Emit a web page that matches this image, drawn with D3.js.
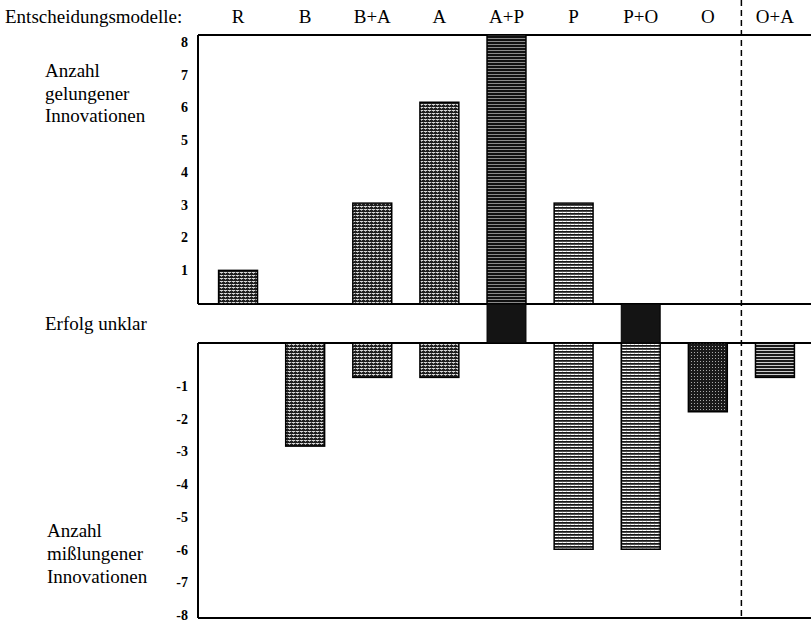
<!DOCTYPE html>
<html>
<head>
<meta charset="utf-8">
<script src="https://cdn.jsdelivr.net/npm/d3@7"></script>
<style>
  html, body { margin: 0; padding: 0; background: #fff; }
  svg { display: block; }
  text { font-family: "Liberation Serif", "Times New Roman", serif; fill: #000; }
</style>
</head>
<body>
<svg id="chart" width="811" height="624"></svg>
<script>
// ---- data ----
const categories = ["R", "B", "B+A", "A", "A+P", "P", "P+O", "O", "O+A"];
const successful = [1, 0, 3, 6, 8, 3, 0, 0, 0];     // Anzahl gelungener Innovationen
const failed     = [0, 3, 1, 1, 0, 6, 6, 2, 1];     // Anzahl mißlungener Innovationen
const unclear    = [0, 0, 0, 0, 1, 0, 1, 0, 0];     // Erfolg unklar
const topTickValues    = [1, 2, 3, 4, 5, 6, 7, 8];
const bottomTickValues = [-1, -2, -3, -4, -5, -6, -7, -8];

// ---- styles (per category pattern) ----
const patternOf = {
  "R": "pDot", "B": "pDot", "B+A": "pDot", "A": "pDot",
  "A+P": "pDense", "P": "pLine", "P+O": "pLine", "O": "pDark", "O+A": "pLine2"
};

const svg = d3.select("#chart");
const W = 811;
const frameLeft = 198;

// scales
const x = d3.scaleBand().domain(categories).range([204.5, 808.5])
  .paddingInner(0.42).paddingOuter(0.21);
const yTop = d3.scaleLinear().domain([0, 8]).range([304, 35]);
const yBot = d3.scaleLinear().domain([0, -8]).range([343, 618]);
const yTopLabel = d3.scaleLinear().domain([1, 8]).range([270, 42]);
const yBotLabel = d3.scaleLinear().domain([-1, -8]).range([386, 615]);

// patterns
const defs = svg.append("defs");
function pat(id, w, h, bg, rects) {
  const p = defs.append("pattern").attr("id", id).attr("patternUnits", "userSpaceOnUse")
    .attr("width", w).attr("height", h);
  p.append("rect").attr("width", w).attr("height", h).attr("fill", bg);
  rects.forEach(r => p.append("rect").attr("x", r[0]).attr("y", r[1])
    .attr("width", r[2]).attr("height", r[3]).attr("fill", r[4]));
}
pat("pDot", 4, 3, "#d8d8d8", [[0, 0, 4, 2, "#1e1e1e"], [1, 0, 1, 1, "#999"], [3, 2, 1, 1, "#555"]]);
pat("pDense", 4, 3, "#8a8a8a", [[0, 0, 4, 2, "#111"]]);
pat("pLine", 4, 3, "#fff", [[0, 0, 4, 1.8, "#1a1a1a"], [2, 1.8, 1, 0.6, "#777"]]);
pat("pLine2", 4, 3, "#ccc", [[0, 0, 4, 2, "#1a1a1a"]]);
pat("pDark", 3, 3, "#1a1a1a", [[1, 1, 1, 1, "#aaa"]]);

const data = categories.map((c, i) => ({ c, s: successful[i], f: failed[i], u: unclear[i] }));

// frame lines
const frame = svg.append("g").attr("stroke", "#000").attr("stroke-width", 2).attr("fill", "none");
frame.append("line").attr("x1", frameLeft).attr("x2", W).attr("y1", yTop(8)).attr("y2", yTop(8));
frame.append("line").attr("x1", frameLeft).attr("x2", frameLeft).attr("y1", yTop(8)).attr("y2", yTop(0));
frame.append("line").attr("x1", frameLeft).attr("x2", W).attr("y1", yTop(0)).attr("y2", yTop(0));
frame.append("line").attr("x1", frameLeft).attr("x2", W).attr("y1", yBot(0)).attr("y2", yBot(0));
frame.append("line").attr("x1", frameLeft).attr("x2", frameLeft).attr("y1", yBot(0)).attr("y2", yBot(-8));
frame.append("line").attr("x1", frameLeft).attr("x2", W).attr("y1", yBot(-8)).attr("y2", yBot(-8));

// successful bars
svg.append("g").selectAll("rect").data(data.filter(d => d.s > 0)).join("rect")
  .attr("x", d => x(d.c)).attr("width", x.bandwidth())
  .attr("y", d => yTop(d.s)).attr("height", d => yTop(0) - yTop(d.s))
  .attr("fill", d => `url(#${patternOf[d.c]})`)
  .attr("stroke", "#000").attr("stroke-width", 1.5);

// failed bars
svg.append("g").selectAll("rect").data(data.filter(d => d.f > 0)).join("rect")
  .attr("x", d => x(d.c)).attr("width", x.bandwidth())
  .attr("y", yBot(0)).attr("height", d => yBot(-d.f) - yBot(0))
  .attr("fill", d => `url(#${patternOf[d.c]})`)
  .attr("stroke", "#000").attr("stroke-width", 1.5);

// unclear boxes (fill the band between the two panels)
svg.append("g").selectAll("rect").data(data.filter(d => d.u > 0)).join("rect")
  .attr("x", d => x(d.c)).attr("width", x.bandwidth())
  .attr("y", yTop(0)).attr("height", yBot(0) - yTop(0))
  .attr("fill", "#141414").attr("stroke", "#000").attr("stroke-width", 1);

// dashed separator between O and O+A
const sepX = (x("O") + x.bandwidth() + x("O+A")) / 2;
svg.append("line").attr("x1", sepX).attr("x2", sepX).attr("y1", 0).attr("y2", 620)
  .attr("stroke", "#000").attr("stroke-width", 1.5).attr("stroke-dasharray", "6,4");

// axes (tick labels only)
function styleAxis(g) {
  g.select(".domain").remove();
  g.selectAll(".tick line").remove();
  g.selectAll(".tick text").attr("font-family", "'Liberation Serif', 'Times New Roman', serif")
    .attr("font-size", 14).attr("font-weight", "bold").attr("fill", "#000");
}
svg.append("g").attr("transform", "translate(191,0)")
  .call(d3.axisLeft(yTopLabel).tickValues(topTickValues).tickSize(0).tickPadding(3).tickFormat(d3.format("d")))
  .call(styleAxis);
svg.append("g").attr("transform", "translate(191,0)")
  .call(d3.axisLeft(yBotLabel).tickValues(bottomTickValues).tickSize(0).tickPadding(3).tickFormat(d => "-" + Math.abs(d)))
  .call(styleAxis);

// header
svg.append("text").attr("x", 5).attr("y", 23).attr("font-size", 19).text("Entscheidungsmodelle:");
svg.append("g").selectAll("text").data(categories).join("text")
  .attr("x", d => x(d) + x.bandwidth() / 2).attr("y", 23)
  .attr("text-anchor", "middle").attr("font-size", 19).text(d => d);

// side labels
function lines(arr, x0, y0, lh) {
  const t = svg.append("text").attr("x", x0).attr("y", y0).attr("font-size", 19);
  arr.forEach((s, i) => t.append("tspan").attr("x", x0).attr("y", y0 + i * lh).text(s));
}
lines(["Anzahl", "gelungener", "Innovationen"], 45, 77, 22.5);
lines(["Erfolg unklar"], 45, 330, 0);
lines(["Anzahl", "mißlungener", "Innovationen"], 47, 537, 23);
</script>
</body>
</html>
